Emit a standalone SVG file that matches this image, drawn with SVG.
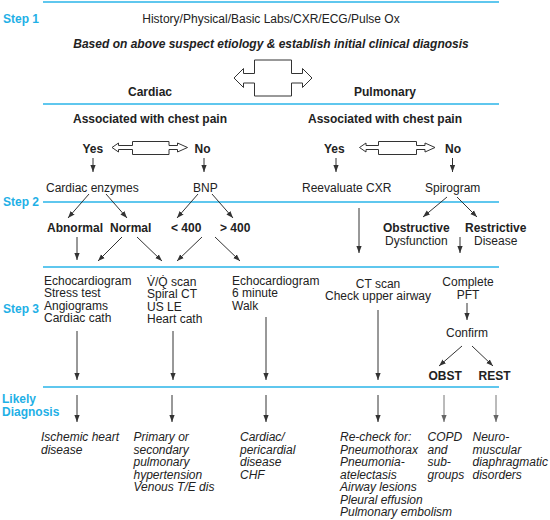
<svg xmlns="http://www.w3.org/2000/svg" width="550" height="520" viewBox="0 0 550 520">
<style>
text{font-family:"Liberation Sans",Arial,sans-serif;font-size:12px;fill:#222}
.b{font-weight:bold}
.i{font-style:italic}
.bi{font-weight:bold;font-style:italic}
.m{text-anchor:middle}
.step{font-weight:bold;fill:#1fb0e6}
.rule{stroke:#2ab4e8;stroke-width:1.6;fill:none}
.c{stroke:#333;stroke-width:1;fill:none;marker-end:url(#ah)}
.g{stroke:#777;stroke-width:1;fill:none;marker-end:url(#ahg)}
.dbl{stroke:#333;stroke-width:1;fill:#fff}
</style>
<defs>
<marker id="ah" markerUnits="userSpaceOnUse" markerWidth="8" markerHeight="6" refX="7" refY="3" orient="auto"><path d="M0,0.4 L7,3 L0,5.6 Z" fill="#333"/></marker>
<marker id="ahg" markerUnits="userSpaceOnUse" markerWidth="8" markerHeight="6" refX="7" refY="3" orient="auto"><path d="M0,0.4 L7,3 L0,5.6 Z" fill="#666"/></marker>
</defs>
<rect width="550" height="520" fill="#fff"/>
<g id="rules">
<line class="rule" x1="43" y1="2" x2="499" y2="2"/>
<line class="rule" x1="43" y1="104" x2="499" y2="104"/>
<line class="rule" x1="43" y1="202" x2="499" y2="202"/>
<line class="rule" x1="43" y1="267" x2="499" y2="267"/>
<line class="rule" x1="43" y1="387" x2="499" y2="387"/>
</g>
<g id="steps">
<text class="step" x="3" y="23">Step 1</text>
<text class="step" x="3" y="206">Step 2</text>
<text class="step" x="3" y="313">Step 3</text>
<text class="step" x="2" y="403">Likely</text>
<text class="step" x="2" y="416">Diagnosis</text>
</g>
<g id="history"><text class="m" x="271" y="23">History/Physical/Basic Labs/CXR/ECG/Pulse Ox</text></g>
<g id="based"><text class="bi m" x="271" y="48">Based on above suspect etiology &amp; establish initial clinical diagnosis</text></g>
<g id="bigarrow"><path class="dbl" d="M234,78 L243.5,68.5 L243.5,73.5 L254.5,73.5 L254.5,60 L291.5,60 L291.5,73.5 L302.5,73.5 L302.5,68.5 L312,78 L302.5,87.5 L302.5,83 L291.5,83 L291.5,96 L254.5,96 L254.5,83 L243.5,83 L243.5,87.5 Z"/></g>
<g id="cardiac"><text class="b m" x="150" y="96">Cardiac</text></g>
<g id="pulmonary"><text class="b m" x="385" y="96">Pulmonary</text></g>
<g id="assocL"><text class="b m" x="150" y="122.5">Associated with chest pain</text></g>
<g id="assocR"><text class="b m" x="385" y="122.5">Associated with chest pain</text></g>
<g id="yesL"><text class="b" x="82.5" y="153">Yes</text></g>
<g id="noL"><text class="b" x="194.5" y="153">No</text></g>
<g id="yesR"><text class="b" x="324" y="153">Yes</text></g>
<g id="noR"><text class="b" x="445" y="153">No</text></g>
<g id="dblL"><path class="dbl" d="M112,147.5 L118.5,143 L118.5,145.5 L132.5,145.5 L132.5,141.5 L169,141.5 L169,145.5 L177.5,145.5 L177.5,143 L187.5,147.5 L177.5,152 L177.5,149.5 L169,149.5 L169,154.5 L132.5,154.5 L132.5,149.5 L118.5,149.5 L118.5,152 Z"/></g>
<g id="dblR"><path class="dbl" d="M359.5,147.5 L366,143 L366,145.5 L378.5,145.5 L378.5,141.5 L416.5,141.5 L416.5,145.5 L425,145.5 L425,143 L435,147.5 L425,152 L425,149.5 L416.5,149.5 L416.5,154.5 L378.5,154.5 L378.5,149.5 L366,149.5 L366,152 Z"/></g>
<g id="cardEnz"><text x="46" y="191.5">Cardiac enzymes</text></g>
<g id="bnp"><text x="193" y="191.5">BNP</text></g>
<g id="reeval"><text x="302" y="191.5">Reevaluate CXR</text></g>
<g id="spiro"><text x="425" y="191.5">Spirogram</text></g>
<g id="abnormal"><text class="b" x="47" y="232">Abnormal</text></g>
<g id="normal"><text class="b" x="110" y="232">Normal</text></g>
<g id="lt400"><text class="b" x="171" y="232">&lt; 400</text></g>
<g id="gt400"><text class="b" x="220" y="232">&gt; 400</text></g>
<g id="obstructive"><text class="b" x="383" y="232">Obstructive</text><text x="385" y="244.5">Dysfunction</text></g>
<g id="restrictive"><text class="b" x="465" y="232">Restrictive</text><text x="474" y="244.5">Disease</text></g>
<g id="col1"><text x="44" y="284.5">Echocardiogram</text><text x="44" y="297">Stress test</text><text x="44" y="309.5">Angiograms</text><text x="44" y="322">Cardiac cath</text></g>
<g id="col2"><text x="147" y="285.5">V&#x307;/Q&#x307; scan</text><text x="147" y="298">Spiral CT</text><text x="147" y="310.5">US LE</text><text x="147" y="323">Heart cath</text></g>
<g id="col3"><text x="232" y="284.5">Echocardiogram</text><text x="232" y="297">6 minute</text><text x="232" y="309.5">Walk</text></g>
<g id="col4"><text class="m" x="378" y="287.5">CT scan</text><text class="m" x="378" y="300">Check upper airway</text></g>
<g id="complete"><text class="m" x="468" y="286">Complete</text><text class="m" x="468" y="298.5">PFT</text></g>
<g id="confirm"><text class="m" x="467" y="337">Confirm</text></g>
<g id="obst"><text class="b" x="428.5" y="380">OBST</text></g>
<g id="rest"><text class="b" x="478.5" y="380">REST</text></g>
<g id="dx1" class="i"><text class="i" x="41" y="441">Ischemic heart</text><text class="i" x="41" y="453.5">disease</text></g>
<g id="dx2"><text class="i" x="133.5" y="441">Primary or</text><text class="i" x="133.5" y="453.5">secondary</text><text class="i" x="133.5" y="466">pulmonary</text><text class="i" x="133.5" y="478.5">hypertension</text><text class="i" x="133.5" y="491">Venous T/E dis</text></g>
<g id="dx3"><text class="i" x="240" y="441">Cardiac/</text><text class="i" x="240" y="453.5">pericardial</text><text class="i" x="240" y="466">disease</text><text class="i" x="240" y="478.5">CHF</text></g>
<g id="dx4"><text class="i" x="340" y="441">Re-check for:</text><text class="i" x="340" y="453.5">Pneumothorax</text><text class="i" x="340" y="466">Pneumonia-</text><text class="i" x="340" y="478.5">atelectasis</text><text class="i" x="340" y="491">Airway lesions</text><text class="i" x="340" y="503.5">Pleural effusion</text><text class="i" x="340" y="516">Pulmonary embolism</text></g>
<g id="dx5"><text class="i" x="427.5" y="441">COPD</text><text class="i" x="427.5" y="453.5">and</text><text class="i" x="427.5" y="466">sub-</text><text class="i" x="427.5" y="478.5">groups</text></g>
<g id="dx6"><text class="i" x="472.5" y="441">Neuro-</text><text class="i" x="472.5" y="453.5">muscular</text><text class="i" x="472.5" y="466">diaphragmatic</text><text class="i" x="472.5" y="478.5">disorders</text></g>
<g id="connectors">
<line class="c" x1="93" y1="158" x2="93" y2="172"/>
<line class="c" x1="204" y1="158" x2="204" y2="172"/>
<line class="c" x1="336" y1="158" x2="336" y2="172"/>
<line class="c" x1="452.5" y1="158" x2="452.5" y2="172"/>
<line class="c" x1="89" y1="194" x2="68" y2="218"/>
<line class="c" x1="106" y1="194" x2="127" y2="218"/>
<line class="c" x1="198" y1="194" x2="177" y2="218"/>
<line class="c" x1="212" y1="194" x2="233" y2="218"/>
<line class="c" x1="359" y1="208" x2="359" y2="253"/>
<line class="c" x1="447" y1="197" x2="423" y2="217"/>
<line class="c" x1="457" y1="197" x2="477" y2="217"/>
<line class="c" x1="77" y1="237" x2="77" y2="260"/>
<line class="c" x1="122" y1="237" x2="98" y2="261"/>
<line class="c" x1="137" y1="237" x2="162" y2="261"/>
<line class="c" x1="202" y1="237" x2="177" y2="261"/>
<line class="c" x1="215" y1="237" x2="240" y2="261"/>
<line class="c" x1="460" y1="237" x2="460" y2="253"/>
<line class="c" x1="467" y1="303" x2="467" y2="320"/>
<line class="c" x1="462" y1="346" x2="439" y2="366"/>
<line class="c" x1="472" y1="346" x2="493" y2="366"/>
<line class="c" x1="77" y1="331" x2="77" y2="380"/>
<line class="c" x1="173" y1="331" x2="173" y2="380"/>
<line class="c" x1="266" y1="317" x2="266" y2="380"/>
<line class="c" x1="378" y1="310" x2="378" y2="380"/>
<line class="c" x1="77" y1="395" x2="77" y2="422"/>
<line class="c" x1="172" y1="395" x2="172" y2="422"/>
<line class="c" x1="266" y1="395" x2="266" y2="422"/>
<line class="c" x1="378" y1="395" x2="378" y2="422"/>
<line class="g" x1="444" y1="395" x2="444" y2="422"/>
<line class="g" x1="496" y1="395" x2="496" y2="422"/>
</g>
</svg>
